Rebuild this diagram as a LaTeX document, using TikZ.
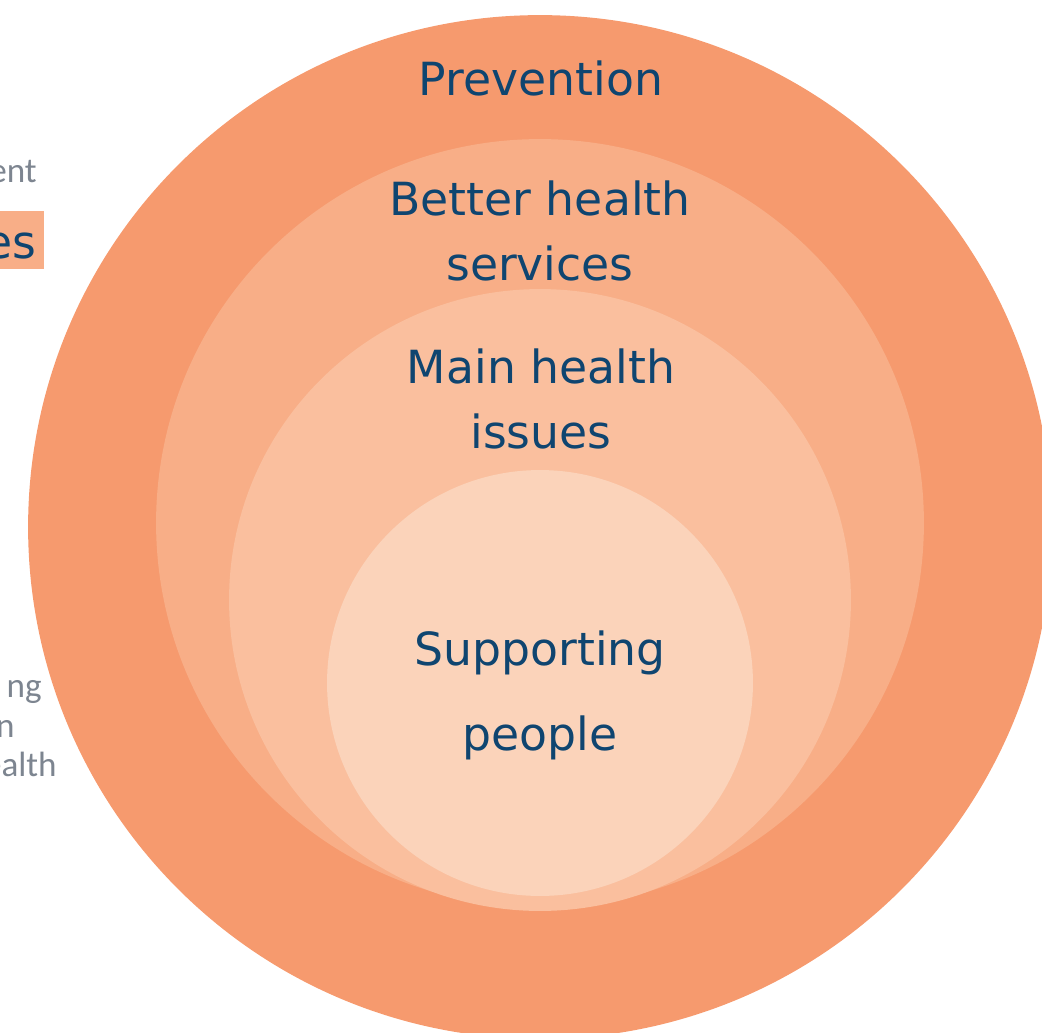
\documentclass[tikz,border=0pt]{standalone}
\usepackage{xcolor}
\usepackage{fontspec}
\usepackage{tikz}
\newfontfamily\handfont{DejaVu Sans}
\newfontfamily\notefont{Carlito}
\definecolor{ring_one}{HTML}{F69A6E}
\definecolor{ring_two}{HTML}{F8AE87}
\definecolor{ring_three}{HTML}{FABF9E}
\definecolor{ring_four}{HTML}{FBD3BA}
\definecolor{label_blue}{HTML}{0F4570}
\definecolor{note_grey}{HTML}{7D8590}
\tikzset{ ring/.style = {circle, inner sep=0pt, draw=none} }
\tikzset{ hand_label/.style = {text=label_blue, align=center, anchor=base, font=\handfont\fontsize{26}{37}\selectfont} }
\tikzset{ side_note/.style = {text=note_grey, anchor=base east, inner sep=0pt, font=\notefont\fontsize{20}{22}\selectfont} }

\begin{document}
\begin{tikzpicture}[x=0.02cm, y=-0.02cm]
        \useasboundingbox (0,0) rectangle (1042,1032);
        \clip (0,0) rectangle (1042,1032);
        % side text cut off by the page edge
        \node[side_note] (ent) at (37,182) {ent};
        \node[fill=ring_two, inner sep=0pt, minimum width=0.88cm, minimum height=1.16cm, anchor=north west] (esbox) at (0,211) {};
        \node[hand_label, anchor=base east, inner sep=0pt] (es) at (37,258) {es};
        \node[side_note] (ng) at (42,697) {ng};
        \node[side_note] (n) at (15,737) {n};
        \node[side_note] (ealth) at (57,776) {ealth};
        % nested circles
        \node[ring, fill=ring_one, minimum size=20.48cm] (prevention) at (540,527) {};
        \node[ring, fill=ring_two, minimum size=15.36cm] (services) at (540,523) {};
        \node[ring, fill=ring_three, minimum size=12.44cm] (issues) at (540,600) {};
        \node[ring, fill=ring_four, minimum size=8.52cm] (support) at (540,683) {};
        % labels, anchored on the last line
        \node[hand_label] (preventiontext) at (541,95) {Prevention};
        \node[hand_label] (servicestext) at (540,280) {Better health\\services};
        \node[hand_label] (issuestext) at (541,448) {Main health\\issues};
        \node[hand_label, font=\handfont\fontsize{26}{48}\selectfont] (supporttext) at (540,750) {Supporting\\people};
\end{tikzpicture}
\end{document}
